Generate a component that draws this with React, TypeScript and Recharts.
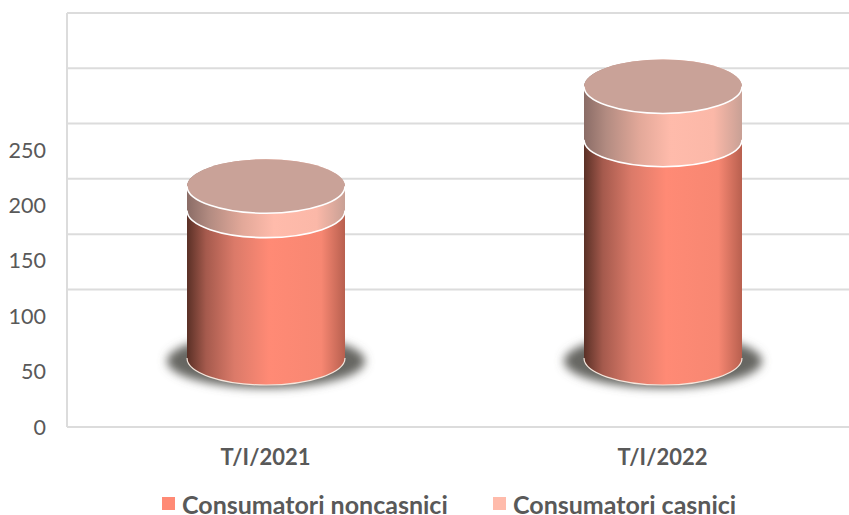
import React from 'react';
import { BarChart, Bar, XAxis, YAxis, CartesianGrid, Legend } from 'recharts';

const categories = ['T/I/2021', 'T/I/2022'];
const noncasnici = [133, 197];
const casnici = [22, 48];
const yTicks = [0, 50, 100, 150, 200, 250];
const wallTicks = [100, 150, 200, 250, 300, 350];

const NONCASNICI = 'Consumatori noncasnici';
const CASNICI = 'Consumatori casnici';

const FONT = 'Lato, Carlito, sans-serif';
const TEXT = '#595959';
const GRID = '#dcdcdc';
const DEPTH = 69; // the 3D look puts the cylinders' base above the front axis
const RY = 27;

const data = categories.map((name, i) => ({
    name,
    [NONCASNICI]: noncasnici[i],
    [CASNICI]: casnici[i],
}));

const bodyPath = (x: number, y: number, w: number, h: number) => {
    const rx = w / 2;
    const bottom = y + h;
    return `M${x},${y} A${rx},${RY} 0 0 1 ${x + w},${y} L${x + w},${bottom} A${rx},${RY} 0 0 1 ${x},${bottom} Z`;
};

const frontArc = (x: number, y: number, w: number) =>
    `M${x},${y} A${w / 2},${RY} 0 0 0 ${x + w},${y}`;

const LowerCylinder = ({ x, y, width, height }: any) => (
    <g transform={`translate(0,${-DEPTH})`}>
        <ellipse
            cx={x + width / 2}
            cy={y + height + 3}
            rx={width / 2 + 20}
            ry={RY}
            fill="#666662"
            filter="url(#shadowBlur)"
        />
        <path d={bodyPath(x, y, width, height)} fill="url(#gradLower)" />
        <path d={frontArc(x, y + height, width)} fill="none" stroke="#f6e6dc" strokeWidth={1.2} />
    </g>
);

const UpperCylinder = ({ x, y, width, height }: any) => {
    const cx = x + width / 2;
    const bottom = y + height;
    return (
        <g transform={`translate(0,${-DEPTH})`}>
            <path d={bodyPath(x, y, width, height)} fill="url(#gradUpper)" />
            <path d={frontArc(x, bottom, width)} fill="none" stroke="#ffffff" strokeWidth={1.6} />
            <ellipse cx={cx} cy={y} rx={width / 2} ry={RY} fill="#c9a298" />
            <path d={frontArc(x, y, width)} fill="none" stroke="#ffffff" strokeWidth={1.6} />
        </g>
    );
};

const renderLegend = () => (
    <div
        style={{
            position: 'relative',
            height: 40,
            fontFamily: FONT,
            fontWeight: 700,
            fontSize: 25,
            color: TEXT,
            whiteSpace: 'nowrap',
        }}
    >
        <span style={{ position: 'absolute', left: 162, top: 22, width: 13, height: 13, background: '#ff8a75' }} />
        <span style={{ position: 'absolute', left: 182, top: 18, lineHeight: '22px' }}>{NONCASNICI}</span>
        <span style={{ position: 'absolute', left: 493, top: 22, width: 13, height: 13, background: '#ffbbab' }} />
        <span style={{ position: 'absolute', left: 513, top: 18, lineHeight: '22px' }}>{CASNICI}</span>
    </div>
);

export default function App() {
    return (
        <div style={{ position: 'absolute', left: 0, top: 0, width: 849, height: 515, overflow: 'hidden', background: '#fff' }}>
            <BarChart
                width={861}
                height={515}
                data={data}
                barSize={158}
                margin={{ top: 13, right: 0, bottom: 0, left: 0 }}
            >
                <defs>
                    <linearGradient id="gradLower" x1="0" y1="0" x2="1" y2="0">
                        <stop offset="0" stopColor="#5a3026" />
                        <stop offset="0.12" stopColor="#a55a4d" />
                        <stop offset="0.3" stopColor="#db7a69" />
                        <stop offset="0.52" stopColor="#ff8a75" />
                        <stop offset="0.85" stopColor="#f78772" />
                        <stop offset="1" stopColor="#b8604f" />
                    </linearGradient>
                    <linearGradient id="gradUpper" x1="0" y1="0" x2="1" y2="0">
                        <stop offset="0" stopColor="#8a6c66" />
                        <stop offset="0.14" stopColor="#b28b81" />
                        <stop offset="0.35" stopColor="#e2a899" />
                        <stop offset="0.55" stopColor="#ffbbab" />
                        <stop offset="0.82" stopColor="#fbb8a8" />
                        <stop offset="1" stopColor="#c8a095" />
                    </linearGradient>
                    <filter id="shadowBlur" x="-20%" y="-40%" width="140%" height="180%">
                        <feGaussianBlur stdDeviation="5" />
                    </filter>
                </defs>
                <CartesianGrid yAxisId="wall" vertical={false} stroke={GRID} strokeWidth={2} horizontalValues={wallTicks} />
                <XAxis
                    dataKey="name"
                    height={48}
                    tickSize={0}
                    tickMargin={22}
                    axisLine={{ stroke: GRID, strokeWidth: 2 }}
                    tick={{ fill: TEXT, fontFamily: FONT, fontWeight: 700, fontSize: 22 }}
                    tickLine={false}
                />
                <YAxis
                    yAxisId="front"
                    width={67}
                    domain={[0, 373.6]}
                    ticks={yTicks}
                    interval={0}
                    tickSize={0}
                    tickMargin={21}
                    axisLine={{ stroke: GRID, strokeWidth: 2 }}
                    tickLine={false}
                    tick={{ fill: TEXT, fontFamily: FONT, fontSize: 21.5 }}
                />
                <YAxis yAxisId="wall" hide domain={[-24.4, 350]} ticks={wallTicks} allowDataOverflow />
                <Legend verticalAlign="bottom" height={40} content={renderLegend} wrapperStyle={{ left: 0, width: 861, bottom: 0 }} />
                <Bar yAxisId="front" dataKey={NONCASNICI} stackId="a" shape={LowerCylinder} isAnimationActive={false} />
                <Bar yAxisId="front" dataKey={CASNICI} stackId="a" shape={UpperCylinder} isAnimationActive={false} />
            </BarChart>
        </div>
    );
}
